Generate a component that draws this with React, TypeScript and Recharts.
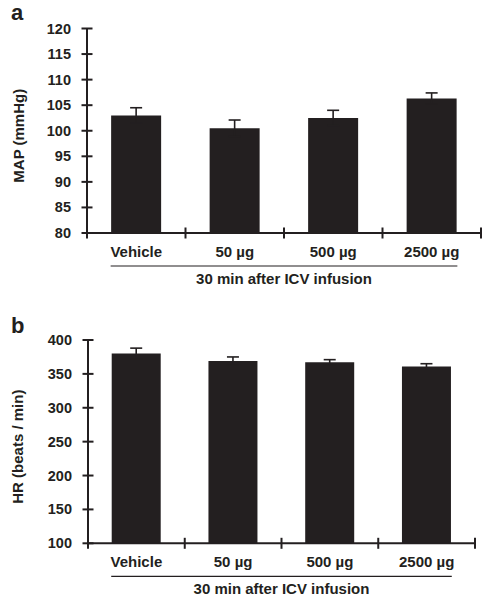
import React from 'react';
import { BarChart, Bar, XAxis, YAxis, ErrorBar, Label } from 'recharts';

const categories = ['Vehicle', '50 µg', '500 µg', '2500 µg'];
const mapValues = [103.0, 100.5, 102.5, 106.3];
const mapErrors = [1.5, 1.6, 1.5, 1.1];
const hrValues = [380, 369, 367, 361];
const hrErrors = [8, 6, 4, 4];
const mapTicks = [80, 85, 90, 95, 100, 105, 110, 115, 120];
const hrTicks = [100, 150, 200, 250, 300, 350, 400];

const INK = '#231f20';
const FONT = '"Liberation Sans", Arial, Helvetica, sans-serif';

const mapData = categories.map((c, i) => ({ name: c, value: mapValues[i], err: mapErrors[i] }));
const hrData = categories.map((c, i) => ({ name: c, value: hrValues[i], err: hrErrors[i] }));

const YTick = (props: any) => {
  const { x, y, payload } = props;
  return (
    <g>
      <line x1={x - 5.5} x2={x + 5.5} y1={y} y2={y} stroke={INK} strokeWidth={2} />
      <text x={x - 16} y={y} textAnchor="end" dominantBaseline="central" fontFamily={FONT} fontWeight="bold" fontSize={14.5} fill={INK}>
        {payload.value}
      </text>
    </g>
  );
};

const XTick = (props: any) => {
  const { x, y, payload, index } = props;
  const half = payload.offset ?? 0;
  return (
    <g>
      {index === 0 && <line x1={x - half} x2={x - half} y1={y - 5.5} y2={y + 5.5} stroke={INK} strokeWidth={2} />}
      <line x1={x + half} x2={x + half} y1={y - 5.5} y2={y + 5.5} stroke={INK} strokeWidth={2} />
      <text x={x} y={y + 18} textAnchor="middle" dominantBaseline="central" fontFamily={FONT} fontWeight="bold" fontSize={15} fill={INK}>
        {payload.value}
      </text>
    </g>
  );
};

const XLabel = (props: any) => {
  const vb = props.viewBox || {};
  const x1 = vb.x + vb.width * 0.06;
  const x2 = vb.x + vb.width * 0.94;
  return (
    <g>
      <line x1={x1} x2={x2} y1={vb.y + 33} y2={vb.y + 33} stroke={INK} strokeWidth={1.2} />
      <text x={(x1 + x2) / 2} y={vb.y + 45} textAnchor="middle" dominantBaseline="central" fontFamily={FONT} fontWeight="bold" fontSize={15} fill={INK}>
        30 min after ICV infusion
      </text>
    </g>
  );
};

const makeYLabel = (text: string) => (props: any) => {
  const vb = props.viewBox || {};
  const cx = 18;
  const cy = vb.y + vb.height / 2 + 5;
  return (
    <text x={cx} y={cy} transform={`rotate(-90, ${cx}, ${cy})`} textAnchor="middle" dominantBaseline="central" fontFamily={FONT} fontWeight="bold" fontSize={15} fill={INK}>
      {text}
    </text>
  );
};

const Panel = ({ data, ticks, domain, yLabel, margin, yWidth, xHeight, height }: any) => (
  <BarChart width={486} height={height} data={data} margin={margin} barCategoryGap="24.5%">
    <XAxis
      dataKey="name"
      interval={0}
      tickLine={false}
      tickSize={0}
      tickMargin={0}
      height={xHeight}
      axisLine={{ stroke: INK, strokeWidth: 2 }}
      tick={<XTick />}
    >
      <Label content={<XLabel />} />
    </XAxis>
    <YAxis
      type="number"
      domain={domain}
      ticks={ticks}
      interval={0}
      allowDataOverflow
      tickLine={false}
      tickSize={0}
      tickMargin={0}
      width={yWidth}
      axisLine={{ stroke: INK, strokeWidth: 2 }}
      tick={<YTick />}
    >
      <Label content={makeYLabel(yLabel)} />
    </YAxis>
    <Bar dataKey="value" fill={INK} isAnimationActive={false}>
      <ErrorBar dataKey="err" width={6} stroke={INK} strokeWidth={1.6} />
    </Bar>
  </BarChart>
);

export default function App() {
  return (
    <div style={{ position: 'absolute', left: 0, top: 0, width: 486, height: 600, background: '#fff' }}>
      <div style={{ position: 'absolute', left: 0, top: 0 }}>
        <Panel
          data={mapData}
          ticks={mapTicks}
          domain={[80, 120]}
          yLabel="MAP (mmHg)"
          margin={{ top: 28.5, right: 5, left: 0, bottom: 0 }}
          yWidth={87}
          xHeight={67}
          height={300}
        />
      </div>
      <div style={{ position: 'absolute', left: 0, top: 300 }}>
        <Panel
          data={hrData}
          ticks={hrTicks}
          domain={[100, 400]}
          yLabel="HR (beats / min)"
          margin={{ top: 40, right: 11, left: 0, bottom: 0 }}
          yWidth={88}
          xHeight={56.7}
          height={300}
        />
      </div>
      <svg width={40} height={600} style={{ position: 'absolute', left: 0, top: 0, pointerEvents: 'none' }}>
        <text x={11} y={20} fontFamily={FONT} fontWeight="bold" fontSize={22} fill={INK}>a</text>
        <text x={11} y={333} fontFamily={FONT} fontWeight="bold" fontSize={22} fill={INK}>b</text>
      </svg>
    </div>
  );
}
